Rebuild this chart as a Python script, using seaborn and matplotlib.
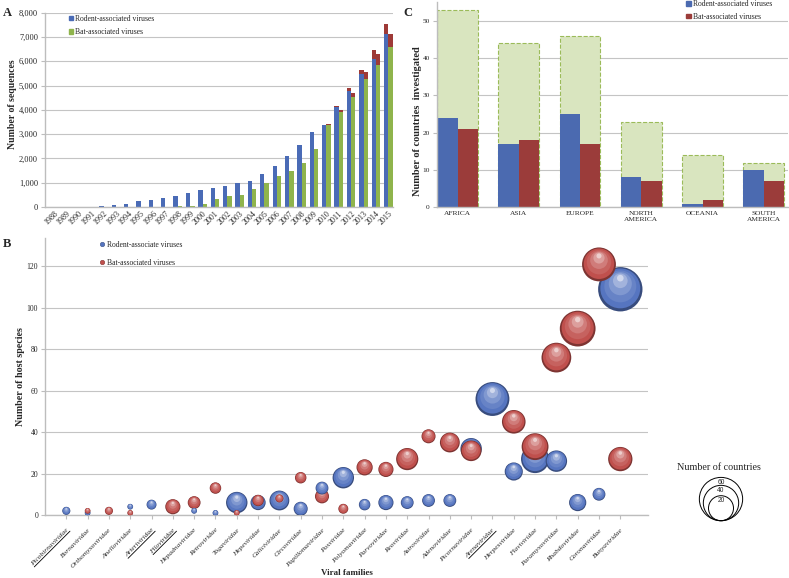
import numpy as np
import pandas as pd
import matplotlib
matplotlib.use("Agg")
import matplotlib.pyplot as plt
import matplotlib.colors as mcolors
import matplotlib.transforms as mtransforms
from matplotlib.lines import Line2D
from matplotlib.patches import Patch, Circle
from matplotlib.ticker import FuncFormatter
import seaborn as sns

# ---------------- data ----------------
# Panel A
years = ["1988", "1989", "1990", "1991", "1992", "1993", "1994", "1995", "1996", "1997",
         "1998", "1999", "2000", "2001", "2002", "2003", "2004", "2005", "2006", "2007",
         "2008", "2009", "2010", "2011", "2012", "2013", "2014", "2015"]
rodent_seq = [10, 12, 15, 20, 30, 70, 110, 233, 285, 375, 453, 590, 690, 800, 864, 995,
              1070, 1372, 1674, 2099, 2538, 3073, 3387, 4128, 4787, 5490, 6090, 7120]
bat_seq = [0, 0, 2, 2, 3, 5, 5, 10, 15, 20, 30, 50, 110, 320, 453, 494,
           741, 1001, 1289, 1481, 1797, 2400, 3374, 3909, 4527, 5270, 5840, 6600]
rodent_extra = [0, 0, 0, 0, 0, 0, 0, 0, 0, 0, 0, 0, 0, 0, 0, 0,
                0, 0, 0, 0, 0, 0, 0, 30, 110, 170, 370, 420]
bat_extra = [0, 0, 0, 0, 0, 0, 0, 0, 0, 0, 0, 0, 0, 0, 0, 0,
             0, 0, 0, 0, 0, 0, 50, 70, 165, 290, 460, 520]
series_a = ["Rodent-associated viruses", "Bat-associated viruses"]

# Panel C
regions = ["AFRICA", "ASIA", "EUROPE", "NORTH\nAMERICA", "OCEANIA", "SOUTH\nAMERICA"]
total_countries = [53, 44, 46, 23, 14, 12]
rodent_countries_region = [24, 17, 25, 8, 1, 10]
bat_countries_region = [21, 18, 17, 7, 2, 7]
series_c = ["Rodent-associated viruses", "Bat-associated viruses"]

# Panel B
families = ["Picobirnaviridae", "Bornaviridae", "Orthomyxoviridae", "Anelloviridae",
            "Arteriviridae", "Filoviridae", "Hepadnaviridae", "Retroviridae", "Togaviridae",
            "Hepeviridae", "Caliciviridae", "Circoviridae", "Papillomaviridae", "Poxviridae",
            "Polyomaviridae", "Parvoviridae", "Reoviridae", "Astroviridae", "Adenoviridae",
            "Picornaviridae", "Arenaviridae", "Herpesviridae", "Flaviviridae",
            "Paramyxoviridae", "Rhabdoviridae", "Coronaviridae", "Bunyaviridae"]
underlined = ["Picobirnaviridae", "Arteriviridae", "Filoviridae", "Arenaviridae"]
nan = np.nan
rodent_hosts = [2, 1, nan, 4, 5, nan, 2, 1, 6, 6, 7, 3, 13, 18, 5, 6, 6, 7, 7, 32,
                56, 21, 27, 26, 6, 10, 109]
rodent_ctry = [2, 1, nan, 1, 3, nan, 1, 1, 14, 7, 12, 6, 5, 14, 4, 7, 5, 5, 5, 14,
               35, 10, 24, 14, 9, 5, 60]
bat_hosts = [nan, 2, 2, 1, nan, 4, 6, 13, 1, 7, 8, 18, 9, 3, 23, 22, 27, 38, 35, 31,
             nan, 45, 33, 76, 90, 121, 27]
bat_ctry = [nan, 1, 2, 1, nan, 7, 5, 4, 1, 4, 2, 4, 6, 3, 8, 7, 15, 6, 12, 13,
            nan, 17, 22, 27, 39, 35, 18]
legend_countries = [60, 40, 20]

# ---------------- style ----------------
sns.set_style("white")
plt.rcParams["font.family"] = ["Liberation Serif", "DejaVu Serif"]
plt.rcParams["axes.linewidth"] = 0.8

BLUE = "#4A6BB6"
GREEN = "#8FB44C"
RED = "#9E3A37"
C_BLUE = "#4B6AB0"
C_RED = "#9B3C3A"
C_FILL = "#D9E5BF"
C_EDGE = "#9BBB59"
GRID = "#C4C4C4"
SPINE = "#BDBDBD"
B_BLUE = "#5675C0"
B_RED = "#C0504D"

W, H = 789, 578
fig = plt.figure(figsize=(W / 100, H / 100), dpi=100)


def px_axes(x0, y0, x1, y1):
    return fig.add_axes([x0 / W, 1 - y1 / H, (x1 - x0) / W, (y1 - y0) / H])


def style_axes(ax):
    for s in ["top", "right"]:
        ax.spines[s].set_visible(False)
    for s in ["left", "bottom"]:
        ax.spines[s].set_color(SPINE)
        ax.spines[s].set_linewidth(1.0)
    ax.yaxis.grid(True, color=GRID, linewidth=0.8)
    ax.xaxis.grid(False)
    ax.set_axisbelow(True)
    ax.tick_params(axis="y", which="both", left=True, length=3, width=0.8,
                   color=SPINE, pad=2)


# ---------------- Panel A ----------------
axA = px_axes(45, 12.7, 392.6, 207)
dfA = pd.DataFrame({
    "year": years * 2,
    "series": [series_a[0]] * len(years) + [series_a[1]] * len(years),
    "value": rodent_seq + bat_seq,
    "extra": rodent_extra + bat_extra,
})
dfA["total"] = dfA["value"] + dfA["extra"]
sns.barplot(data=dfA, x="year", y="total", hue="series", hue_order=series_a,
            palette={series_a[0]: RED, series_a[1]: RED}, width=0.7,
            saturation=1, errorbar=None, legend=False, ax=axA, linewidth=0)
sns.barplot(data=dfA, x="year", y="value", hue="series", hue_order=series_a,
            palette={series_a[0]: BLUE, series_a[1]: GREEN}, width=0.7,
            saturation=1, errorbar=None, legend=False, ax=axA, linewidth=0)
style_axes(axA)
axA.set_xlim(-0.73, 27.35)
axA.set_ylim(0, 8000)
axA.set_yticks(range(0, 8001, 1000))
axA.yaxis.set_major_formatter(FuncFormatter(lambda v, p: f"{int(v):,}"))
axA.tick_params(axis="y", labelsize=6)
axA.tick_params(axis="x", labelsize=5.8, length=0, pad=2)
plt.setp(axA.get_xticklabels(), rotation=45, ha="right", rotation_mode="anchor")
axA.set_xlabel("")
axA.set_ylabel("Number of sequences", fontsize=7, fontweight="bold")
axA.yaxis.set_label_coords(-0.08, 0.53)
axA.legend(handles=[Patch(color=BLUE), Patch(color=GREEN)], labels=series_a,
           loc="upper left", bbox_to_anchor=(0.068, 0.99), frameon=False,
           fontsize=5.5, handlelength=0.55, handleheight=0.55, handletextpad=0.3,
           labelspacing=0.75, borderaxespad=0, borderpad=0)

# ---------------- Panel C ----------------
axC = px_axes(436.7, 2.2, 788.3, 207.3)
dfC_tot = pd.DataFrame({"region": regions, "total": total_countries})
dfC = pd.DataFrame({
    "region": regions * 2,
    "series": [series_c[0]] * len(regions) + [series_c[1]] * len(regions),
    "count": rodent_countries_region + bat_countries_region,
})
sns.barplot(data=dfC_tot, x="region", y="total", order=regions, color=C_FILL,
            width=0.667, saturation=1, errorbar=None, ax=axC,
            edgecolor=C_EDGE, linestyle="--", linewidth=0.8)
sns.barplot(data=dfC, x="region", y="count", order=regions, hue="series",
            hue_order=series_c, palette={series_c[0]: C_BLUE, series_c[1]: C_RED},
            width=0.667, saturation=1, errorbar=None, ax=axC, legend=False,
            linewidth=0)
style_axes(axC)
axC.set_xlim(-0.34, 5.40)
axC.set_ylim(0, 55)
axC.set_yticks(range(0, 51, 10))
axC.tick_params(axis="y", labelsize=5.3)
axC.tick_params(axis="x", labelsize=5.3, length=0, pad=3)
for lab in axC.get_xticklabels():
    lab.set_linespacing(1.05)
axC.set_xlabel("")
axC.set_ylabel("Number of countries  investigated", fontsize=7.5, fontweight="bold")
axC.yaxis.set_label_coords(-0.042, 0.42)
axC.legend(handles=[Patch(color=C_BLUE), Patch(color=C_RED)], labels=series_c,
           loc="upper left", bbox_to_anchor=(0.71, 1.01), frameon=False,
           fontsize=5.5, handlelength=0.55, handleheight=0.55, handletextpad=0.3,
           labelspacing=0.6, borderaxespad=0, borderpad=0)

# ---------------- Panel B ----------------
axB = px_axes(45, 238.3, 648, 515)
pos = np.arange(1, len(families) + 1)
style_axes(axB)
axB.set_xlim(0, 28.3)
axB.set_ylim(0, 133.6)
axB.set_yticks(range(0, 121, 20))
axB.tick_params(axis="y", labelsize=5.5)
axB.set_xticks(pos)
axB.set_xticklabels(families, fontsize=5.3, style="italic")
axB.tick_params(axis="x", bottom=True, length=3, width=0.8, color=SPINE, pad=6)
plt.setp(axB.get_xticklabels(), rotation=45, ha="right", rotation_mode="anchor")
axB.set_xlabel("Viral families", fontsize=6.5, fontweight="bold")
axB.xaxis.set_label_coords(0.5, -0.195)
axB.set_ylabel("Number of host species", fontsize=7.2, fontweight="bold")
axB.yaxis.set_label_coords(-0.033, 0.5)

AREA_PER_COUNTRY = 17.0  # points^2 per country


def mix(c, f, target):
    c = np.array(mcolors.to_rgb(c))
    t = np.array(mcolors.to_rgb(target))
    return tuple(c + (t - c) * f)


bubbles = []
for i in range(len(families)):
    if not np.isnan(rodent_hosts[i]):
        bubbles.append((pos[i], rodent_hosts[i], rodent_ctry[i], B_BLUE))
    if not np.isnan(bat_hosts[i]):
        bubbles.append((pos[i], bat_hosts[i], bat_ctry[i], B_RED))
bubbles.sort(key=lambda b: -b[2])

layers = [  # (diameter fraction, upward offset in radii, mix to white)
    (0.90, 0.04, 0.0),
    (0.72, 0.13, 0.10),
    (0.52, 0.25, 0.25),
    (0.33, 0.38, 0.45),
    (0.15, 0.50, 0.72),
]
for k, (x, y, c, col) in enumerate(bubbles):
    s = AREA_PER_COUNTRY * c
    r_pt = np.sqrt(s) / 2
    z = 3 + k * 0.02
    sns.scatterplot(x=[x], y=[y], s=s, color=mix(col, 0.35, "black"),
                    edgecolor="none", linewidth=0, zorder=z, ax=axB, legend=False)
    for j, (df, off, f) in enumerate(layers):
        tr = mtransforms.offset_copy(axB.transData, fig=fig, x=0,
                                     y=off * r_pt, units="points")
        axB.scatter([x], [y], s=s * df ** 2, color=mix(col, f, "white"),
                    edgecolor="none", linewidth=0, transform=tr,
                    zorder=z + 0.001 * (j + 1), clip_on=False)

axB.legend(handles=[Line2D([], [], ls="", marker="o", markersize=3.2,
                           markerfacecolor=B_BLUE, markeredgecolor=mix(B_BLUE, 0.3, "black"),
                           markeredgewidth=0.4),
                    Line2D([], [], ls="", marker="o", markersize=3.2,
                           markerfacecolor=B_RED, markeredgecolor=mix(B_RED, 0.3, "black"),
                           markeredgewidth=0.4)],
           labels=["Rodent-associate viruses", "Bat-associated viruses"],
           loc="upper left", bbox_to_anchor=(0.09, 0.99), frameon=False,
           fontsize=5.5, handlelength=0.6, handletextpad=0.4, labelspacing=1.25,
           borderaxespad=0, borderpad=0)

# size legend
fig.text(719 / W, 1 - 467 / H, "Number of countries", ha="center", va="center",
         fontsize=7.3)
axL = px_axes(690, 470, 752, 525)
axL.set_xlim(690, 752)
axL.set_ylim(525, 470)
axL.axis("off")
r60 = 21.65
for v in legend_countries:
    r = r60 * np.sqrt(v / 60)
    axL.add_patch(Circle((721, 520.7 - r), r, fill=False, lw=0.7, ec="black"))
    axL.text(721, 520.7 - 2 * r + 5, str(v), ha="center", va="center", fontsize=4.8,
             family=["Liberation Sans", "DejaVu Sans"])

# panel letters
for letter, xx, yy in [("A", 3, 12.5), ("B", 3, 244), ("C", 403, 12.5)]:
    fig.text(xx / W, 1 - yy / H, letter, fontsize=9, fontweight="bold",
             ha="left", va="center")

# underline selected family labels
fig.canvas.draw()
renderer = fig.canvas.get_renderer()
cs = np.cos(np.deg2rad(45))
for lab in axB.get_xticklabels():
    if lab.get_text() in underlined:
        w, h, d = renderer.get_text_width_height_descent(
            lab.get_text(), lab.get_fontproperties(), ismath=False)
        ax_, ay_ = lab.get_transform().transform(lab.get_position())
        off = h - d + 1.2
        x0, y0 = ax_ + off * cs, ay_ - off * cs
        x1, y1 = x0 - w * cs, y0 - w * cs
        fig.add_artist(Line2D([x0, x1], [y0, y1], transform=mtransforms.IdentityTransform(),
                              color="black", lw=0.6))

fig.savefig("out.png", dpi=100)
